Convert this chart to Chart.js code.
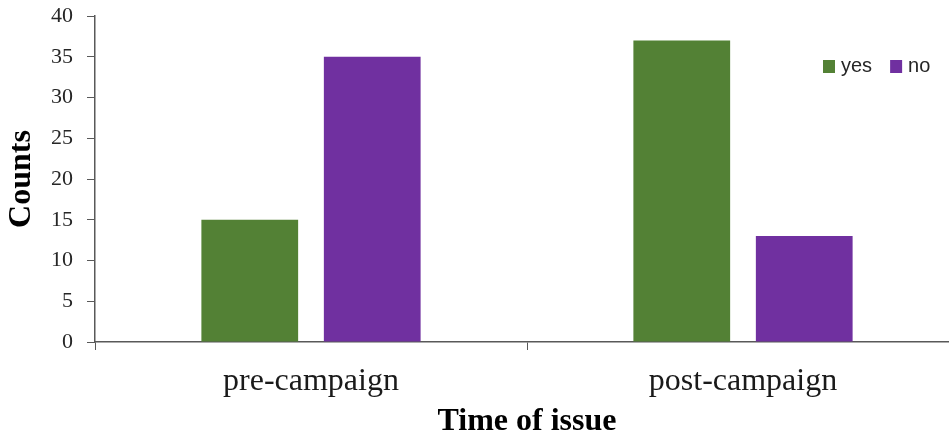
<!DOCTYPE html>
<html>
<head>
<meta charset="utf-8">
<script src="https://cdn.jsdelivr.net/npm/chart.js@4/dist/chart.umd.min.js"></script>
<style>
  html, body { margin: 0; padding: 0; overflow: hidden; background: #fff; }
  #wrap { width: 959px; height: 438px; }
</style>
</head>
<body>
<div id="wrap"><canvas id="c" width="959" height="438"></canvas></div>
<script>
// Survey responses before and after the campaign
const categories = ['pre-campaign', 'post-campaign'];
const yesCounts = [15, 37];
const noCounts = [35, 13];
const seriesNames = ['yes', 'no'];
const yTicks = [0, 5, 10, 15, 20, 25, 30, 35, 40];

const GREEN = '#538135';
const PURPLE = '#7030A0';
const AXIS = '#595959';

// Legend sitting inside the plot area, top right
const insideLegend = {
  id: 'insideLegend',
  afterDraw(chart) {
    const ctx = chart.ctx;
    ctx.save();
    ctx.font = '20px "Liberation Sans", Arial, sans-serif';
    ctx.textBaseline = 'middle';
    ctx.textAlign = 'left';
    let x = 823;
    const y = 66;
    chart.data.datasets.forEach(ds => {
      ctx.fillStyle = ds.backgroundColor;
      ctx.fillRect(x, y - 6, 12, 13);
      ctx.fillStyle = '#262626';
      ctx.fillText(ds.label, x + 18, y);
      x += 18 + ctx.measureText(ds.label).width + 18;
    });
    ctx.restore();
  }
};

new Chart(document.getElementById('c'), {
  type: 'bar',
  data: {
    labels: categories,
    datasets: [
      { label: seriesNames[0], data: yesCounts, backgroundColor: GREEN },
      { label: seriesNames[1], data: noCounts, backgroundColor: PURPLE }
    ]
  },
  options: {
    responsive: false,
    animation: false,
    devicePixelRatio: 1,
    layout: { padding: { top: 16, right: 0, bottom: 0, left: 0 } },
    categoryPercentage: 0.567,
    barPercentage: 0.79,
    plugins: {
      legend: { display: false },
      tooltip: { enabled: false }
    },
    scales: {
      x: {
        afterFit(scale) { scale.height = 96; },
        grid: {
          offset: true,
          drawOnChartArea: false,
          drawTicks: true,
          tickLength: 8,
          color: AXIS,
          lineWidth: 1
        },
        border: { display: true, color: AXIS, width: 1.5 },
        ticks: {
          color: '#1a1a1a',
          padding: 12,
          font: { family: '"Liberation Serif", "Times New Roman", serif', size: 32 }
        },
        title: {
          display: true,
          text: 'Time of issue',
          color: '#000',
          padding: { top: 0, bottom: 0 },
          font: { family: '"Liberation Serif", "Times New Roman", serif', size: 32, weight: 'bold', lineHeight: 1 }
        }
      },
      y: {
        min: 0,
        max: 40,
        afterFit(scale) {
          scale.width = 95;
          scale.paddingTop = 0;
          scale.paddingBottom = 0;
        },
        afterBuildTicks(scale) { scale.ticks = yTicks.map(v => ({ value: v })); },
        grid: {
          drawOnChartArea: false,
          drawTicks: true,
          tickLength: 8,
          color: AXIS,
          lineWidth: 1
        },
        border: { display: true, color: AXIS, width: 1.5 },
        ticks: {
          color: '#262626',
          padding: 14,
          font: { family: '"Liberation Serif", "Times New Roman", serif', size: 22 }
        },
        title: {
          display: true,
          text: 'Counts',
          color: '#000',
          padding: { top: 6, bottom: 0 },
          font: { family: '"Liberation Serif", "Times New Roman", serif', size: 32, weight: 'bold', lineHeight: 1 }
        }
      }
    }
  },
  plugins: [insideLegend]
});
</script>
</body>
</html>
